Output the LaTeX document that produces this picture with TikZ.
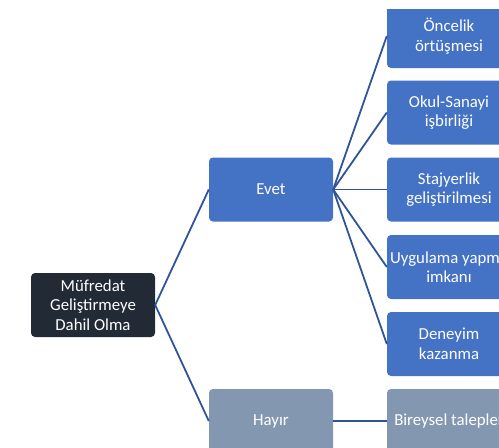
\documentclass[tikz,border=0pt]{standalone}
\usepackage{fontspec}
\setmainfont{Carlito}
\definecolor{rootc}{HTML}{222A35}
\definecolor{yesc}{HTML}{4472C4}
\definecolor{noc}{HTML}{8497B0}
\definecolor{linec}{HTML}{2F5597}
\begin{document}
\begin{tikzpicture}[x=1pt,y=-1pt,
  box/.style={rounded corners=4pt, minimum width=124pt, minimum height=64pt, inner sep=0pt,
    text=white, align=center, font=\fontsize{16.8}{19.5}\selectfont, draw=none},
  conn/.style={draw=linec, line width=1.8pt}]
\useasboundingbox (0,0) rectangle (499,448);
\clip (0,9) rectangle (499,448);
\node[box, fill=rootc] (root) at (93,305) {Müfredat\\Geliştirmeye\\Dahil Olma};
\node[box, fill=yesc] (evet) at (271,189.5) {Evet};
\node[box, fill=noc] (hayir) at (271,421) {Hayır};
\node[box, fill=yesc] (c1) at (449,36) {Öncelik\\örtüşmesi};
\node[box, fill=yesc] (c2) at (449,112.5) {Okul-Sanayi\\işbirliği};
\node[box, fill=yesc] (c3) at (449,189.5) {Stajyerlik\\geliştirilmesi};
\node[box, fill=yesc] (c4) at (449,267) {Uygulama yapma\\imkanı};
\node[box, fill=yesc] (c5) at (449,344) {Deneyim\\kazanma};
\node[box, fill=noc] (c6) at (449,421) {Bireysel talepler};
\draw[conn] (root.east) -- (evet.west);
\draw[conn] (root.east) -- (hayir.west);
\foreach \c in {c1,c2,c3,c4,c5}{\draw[conn] (evet.east) -- (\c.west);}
\draw[conn] (hayir.east) -- (c6.west);
\end{tikzpicture}
\end{document}
